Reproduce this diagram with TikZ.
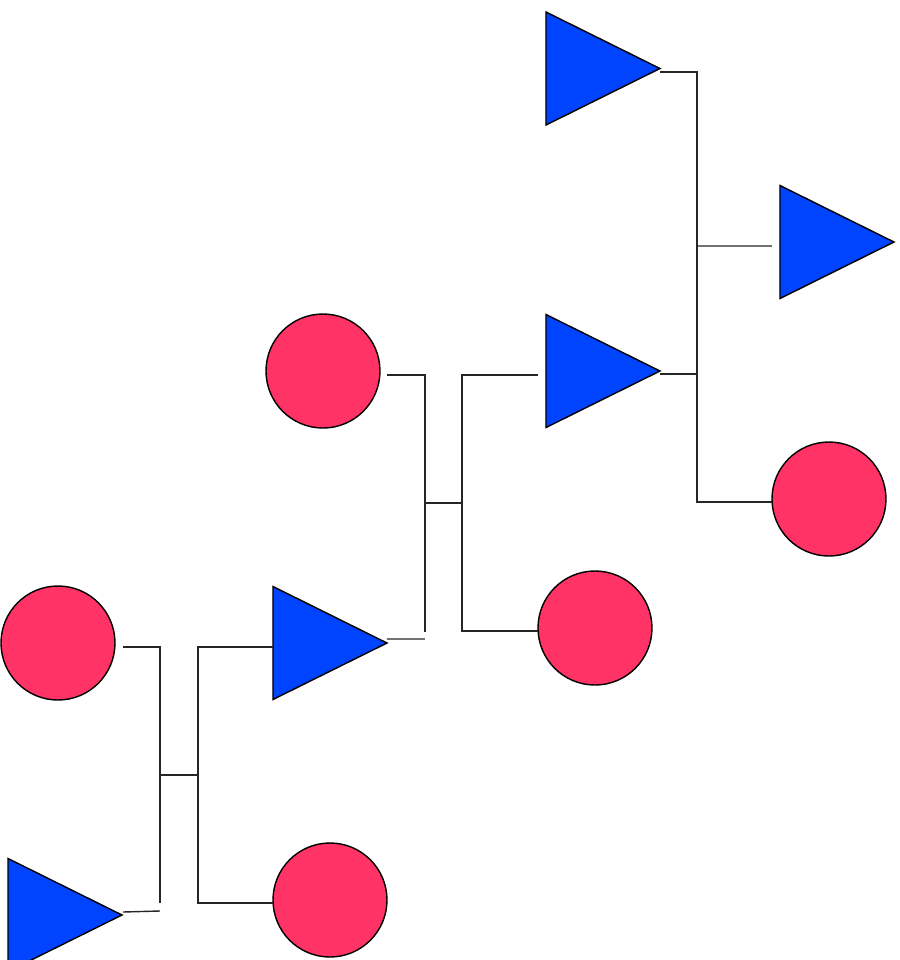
\documentclass[tikz,border=0pt]{standalone}
\usetikzlibrary{shapes.geometric}
\usetikzlibrary{positioning}

\definecolor{femalered}{HTML}{FF3366}
\definecolor{maleblue}{HTML}{0044FF}

\tikzset{
    female/.style={circle, draw=black, fill=femalered, minimum size=1.14cm, inner sep=0pt, outer sep=0pt},
    male/.style={isosceles triangle, isosceles triangle stretches, draw=black, fill=maleblue,
        minimum width=1.13cm, minimum height=1.14cm, inner sep=0pt, outer sep=0pt, anchor=lower side},
    link/.style={draw=black!85, line width=0.4pt}
}

\begin{document}
\begin{tikzpicture}

    \useasboundingbox (0, 0) rectangle (9, -9.6);

    \node[female] (C1) at (0.58, -6.43) {};
    \node[male] (T1) at (0.08, -9.15) {};
    \node[male] (T2) at (2.73, -6.43) {};
    \node[female] (C2) at (3.30, -9.00) {};
    \coordinate (J1) at (1.60, -7.75);
    \coordinate (K1) at (1.98, -7.75);
    \coordinate (E1) at (1.60, -9.03);
\draw[link] ([xshift=0.08cm, yshift=-0.04cm]C1.east) -| (E1);
\draw[link] ([xshift=0.01cm, yshift=0.03cm]T1.apex) -- ([yshift=-0.08cm]E1);
\draw[link] (J1) -- (K1);
\draw[link] ([yshift=-0.04cm]T2.lower side) -| (K1) |- ([yshift=-0.03cm]C2.west);


    \node[female] (C3) at (3.23, -3.71) {};
    \node[male] (T3) at (5.46, -3.71) {};
    \node[female] (C4) at (5.95, -6.28) {};
    \coordinate (J2) at (4.25, -5.03);
    \coordinate (K2) at (4.62, -5.03);
    \coordinate (E2) at (4.25, -6.32);
\draw[link] ([xshift=0.07cm, yshift=-0.04cm]C3.east) -| (E2);
\draw[link] ([yshift=0.04cm]T2.apex) -- ([yshift=-0.07cm]E2);
\draw[link] (J2) -- (K2);
\draw[link] ([xshift=-0.08cm, yshift=-0.04cm]T3.lower side) -| (K2) |- ([yshift=-0.03cm]C4.west);


    \node[male] (T4) at (5.46, -0.685) {};
    \node[male] (T5) at (7.80, -2.42) {};
    \node[female] (C5) at (8.29, -4.99) {};
    \coordinate (J3) at (6.97, -2.46);
    \coordinate (E3) at (6.97, -3.74);
\draw[link] ([yshift=-0.035cm]T4.apex) -| (J3) |- ([yshift=-0.03cm]C5.west);
\draw[link] ([yshift=-0.03cm]T3.apex) -- (E3);
\draw[link] (J3) -- ([xshift=-0.08cm, yshift=-0.04cm]T5.lower side);


\end{tikzpicture}
\end{document}
